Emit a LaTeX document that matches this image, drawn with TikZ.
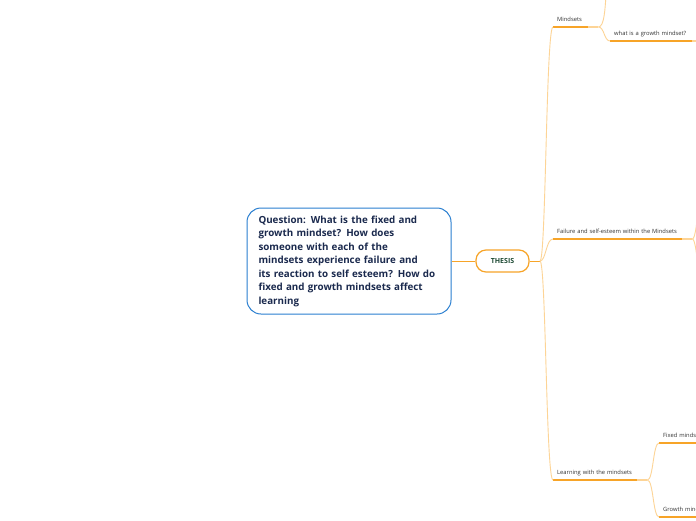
\documentclass[tikz,border=0pt]{standalone}
\usepackage{fontspec}
\setmainfont{Open Sans}
\usetikzlibrary{positioning}
\definecolor{mmorange}{HTML}{F7A428}
\definecolor{mmtwig}{HTML}{FDD496}
\definecolor{mmblue}{HTML}{2A7FD0}
\definecolor{mmnavy}{HTML}{1B2A4E}
\definecolor{mmgreen}{HTML}{1F4B35}
\definecolor{mmtext}{HTML}{333333}

\begin{document}
\begin{tikzpicture}[
  x=1pt, y=-1pt,
  root/.style={draw=mmblue, line width=1pt, rounded corners=14pt, fill=white,
               text=mmnavy, font=\fontsize{9.8}{13.5}\selectfont\bfseries, align=left,
               text width=181pt, minimum height=106pt, inner xsep=11.5pt},
  hub/.style={draw=mmorange, line width=1.2pt, rounded corners=10pt, fill=white,
              text=mmgreen, font=\fontsize{7}{8}\selectfont\bfseries,
              minimum width=53pt, minimum height=22pt},
  topic/.style={anchor=south west, text=mmtext, font=\fontsize{5.8}{7}\selectfont,
                align=left, text width=#1, inner xsep=4pt, inner ysep=0.5pt,
                text depth=5pt},
  uline/.style={draw=mmorange, line width=1.5pt},
  ufade/.style={draw=mmtwig, line width=1.5pt},
  link/.style={draw=mmorange, line width=1pt},
  twig/.style={draw=mmtwig, line width=0.9pt},
]
\useasboundingbox (0,0) rectangle (696,520);
\fill[white] (0,0) rectangle (696,520);
\clip (0,0) rectangle (696,520);

% ---- central topic --------------------------------------------------------
\node[root] (question) at (349,261)
  {Question: What is the fixed and\\ growth mindset? How does\\
   someone with each of the\\ mindsets experience failure and\\
   its reaction to self esteem? How do\\ fixed and growth mindsets affect\\ learning};
\node[hub] (thesis) at (502.5,261) {THESIS};

% ---- branches -------------------------------------------------------------
\node[topic=37pt]  (mind)   at (553,27)  {Mindsets};
\node[topic=84pt]  (whatq)  at (610,41)  {what is a growth mindset?};
\node[topic=131pt] (fail)   at (553,239) {Failure and self-esteem within the Mindsets};
\node[topic=86pt]  (learn)  at (553,480) {Learning with the mindsets};
\node[topic=86pt]  (fixed)  at (659,443) {Fixed mindset};
\node[topic=86pt]  (growth) at (659,517) {Growth mindset};

\foreach \t in {mind, whatq, fail, learn, fixed, growth} {
  \draw[uline] (\t.south west) -- ([xshift=-10pt]\t.south east);
  \draw[ufade] ([xshift=-10pt]\t.south east) -- (\t.south east);
}

% ---- connectors -----------------------------------------------------------
\coordinate (fork) at (540,261);
\draw[link] (question.east) -- (thesis.west);
\draw[link] (thesis.east) -- (fork);
\foreach \t in {mind, fail, learn}
  \draw[twig] (fork) .. controls +(6,0) and +(-7,0) .. (\t.south west);

\coordinate (mindup) at (606,-4);
\draw[twig] (mind.south east) .. controls +(6,0) and +(-1,12) .. (mindup);
\draw[twig] (mind.south east) .. controls +(6,0) and +(-6,0) .. (whatq.south west);

\coordinate (failup)   at (706,160);
\coordinate (faildown) at (706,320);
\draw[twig] (fail.south east) .. controls +(6,0) and +(-6,0) .. (failup);
\draw[twig] (fail.south east) .. controls +(6,0) and +(-6,0) .. (faildown);

\draw[twig] (learn.south east) .. controls +(6,0) and +(-6,0) .. (fixed.south west);
\draw[twig] (learn.south east) .. controls +(6,0) and +(-6,0) .. (growth.south west);

\end{tikzpicture}
\end{document}
